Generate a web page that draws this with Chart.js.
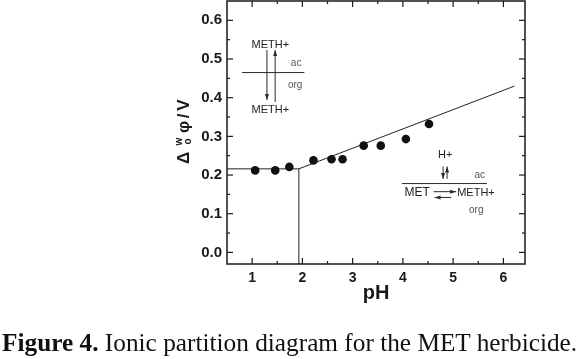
<!DOCTYPE html>
<html>
<head>
<meta charset="utf-8">
<script src="https://cdn.jsdelivr.net/npm/chart.js@4"></script>
<style>
  body { margin: 0; background: #fff; }
  #wrap { position: relative; width: 580px; height: 359px; }
  #caption {
    position: absolute; left: 2px; top: 328px;
    font-family: "Liberation Serif", serif; font-size: 25.3px;
    white-space: nowrap; color: #111;
  }
</style>
</head>
<body>
<div id="wrap">
  <canvas id="graph" width="580" height="359"></canvas>
  <div id="caption"><b>Figure 4.</b> Ionic partition diagram for the MET herbicide.</div>
</div>
<script>
// measured points
const phValues = [1.06, 1.46, 1.74, 2.22, 2.58, 2.80, 3.22, 3.56, 4.06, 4.52];
const potentials = [0.212, 0.212, 0.221, 0.238, 0.241, 0.241, 0.276, 0.276, 0.293, 0.332];

// fitted lines
const fitPh = [0.5, 1.93, 6.22];
const fitPotential = [0.216, 0.216, 0.430];
const pkaPh = [1.93, 1.93];
const pkaPotential = [-0.03, 0.216];

// ticks
const xTicks = [1, 2, 3, 4, 5, 6];
const yTicks = [0.0, 0.1, 0.2, 0.3, 0.4, 0.5, 0.6];

const FONT = '"Liberation Sans", Arial, sans-serif';
const INK = '#1a1a1a';

const toPoints = (xs, ys) => xs.map((x, i) => ({ x: x, y: ys[i] }));

function minors(major, min, max) {
    const out = [];
    const step = major[1] - major[0];
    const list = [major[0] - step].concat(major);
    list.forEach(v => {
        const m = v + step / 2;
        if (m > min && m < max) out.push(m);
    });
    return out;
}

function arrow(ctx, x1, y1, x2, y2) {
    ctx.beginPath();
    ctx.moveTo(x1, y1);
    ctx.lineTo(x2, y2);
    ctx.stroke();
    const a = Math.atan2(y2 - y1, x2 - x1);
    ctx.beginPath();
    ctx.moveTo(x2, y2);
    ctx.lineTo(x2 - 6 * Math.cos(a) + 2 * Math.sin(a), y2 - 6 * Math.sin(a) - 2 * Math.cos(a));
    ctx.lineTo(x2 - 6 * Math.cos(a) - 2 * Math.sin(a), y2 - 6 * Math.sin(a) + 2 * Math.cos(a));
    ctx.closePath();
    ctx.fill();
}

// frame, inward ticks, axis titles and the scheme annotations
const decorations = {
    id: 'decorations',
    afterDatasetsDraw(chart) {
        const ctx = chart.ctx;
        const area = chart.chartArea;
        const sx = chart.scales.x, sy = chart.scales.y;
        const px = v => sx.getPixelForValue(v);
        const py = v => sy.getPixelForValue(v);

        ctx.save();
        ctx.strokeStyle = INK;
        ctx.fillStyle = INK;

        // ticks on all four sides
        ctx.lineWidth = 1.2;
        const tick = (x1, y1, x2, y2) => { ctx.beginPath(); ctx.moveTo(x1, y1); ctx.lineTo(x2, y2); ctx.stroke(); };
        xTicks.forEach(v => { tick(px(v), area.bottom, px(v), area.bottom - 6); tick(px(v), area.top, px(v), area.top + 6); });
        minors(xTicks, sx.min, sx.max).forEach(v => { tick(px(v), area.bottom, px(v), area.bottom - 3); tick(px(v), area.top, px(v), area.top + 3); });
        yTicks.forEach(v => { tick(area.left, py(v), area.left + 6, py(v)); tick(area.right, py(v), area.right - 6, py(v)); });
        minors(yTicks, sy.min, sy.max).forEach(v => { tick(area.left, py(v), area.left + 3, py(v)); tick(area.right, py(v), area.right - 3, py(v)); });

        // frame
        ctx.lineWidth = 1.5;
        ctx.strokeRect(area.left, area.top, area.right - area.left, area.bottom - area.top);

        // x title
        ctx.font = 'bold 20px ' + FONT;
        ctx.textAlign = 'center';
        ctx.textBaseline = 'alphabetic';
        ctx.fillText('pH', (area.left + area.right) / 2, area.bottom + 35);

        // y title, drawn piece by piece for the stacked w / o
        ctx.save();
        ctx.translate(area.left - 38, (area.top + area.bottom) / 2 + 34);
        ctx.rotate(-Math.PI / 2);
        ctx.textAlign = 'center';
        ctx.font = 'bold 17px ' + FONT;
        ctx.fillText('\u0394', 8.5, 0);
        ctx.font = 'bold 10px ' + FONT;
        ctx.fillText('w', 25, -7);
        ctx.fillText('o', 25, 2);
        ctx.font = 'bold 17px ' + FONT;
        ctx.fillText('\u03c6', 39.5, 0);
        ctx.fillText('/', 50.5, 0);
        ctx.fillText('V', 61.5, 0);
        ctx.restore();

        // scheme annotations
        ctx.lineWidth = 1;
        ctx.strokeStyle = '#2a2a2a';
        ctx.textBaseline = 'middle';
        const text = (s, x, y, size, align, color) => {
            ctx.font = size + 'px ' + FONT;
            ctx.textAlign = align;
            ctx.fillStyle = color;
            ctx.fillText(s, px(x), py(y));
            ctx.fillStyle = '#2a2a2a';
        };

        // top-left: interface transfer
        text('METH+', 0.99, 0.536, 11, 'left', '#222');
        arrow(ctx, px(1.295), py(0.523), px(1.295), py(0.394));
        arrow(ctx, px(1.458), py(0.389), px(1.458), py(0.523));
        ctx.beginPath(); ctx.moveTo(px(0.80), py(0.465)); ctx.lineTo(px(2.04), py(0.465)); ctx.stroke();
        text('ac', 1.876, 0.489, 10, 'center', '#555');
        text('org', 1.857, 0.431, 10, 'center', '#555');
        text('METH+', 0.99, 0.369, 11, 'left', '#222');

        // bottom-right: protonation equilibrium
        text('H+', 4.70, 0.251, 11, 'left', '#222');
        arrow(ctx, px(4.80), py(0.222), px(4.80), py(0.190));
        arrow(ctx, px(4.88), py(0.190), px(4.88), py(0.222));
        text('ac', 5.53, 0.199, 10, 'center', '#555');
        ctx.beginPath(); ctx.moveTo(px(3.98), py(0.178)); ctx.lineTo(px(5.67), py(0.178)); ctx.stroke();
        text('MET', 4.03, 0.154, 12, 'left', '#222');
        arrow(ctx, px(4.61), py(0.157), px(5.06), py(0.157));
        arrow(ctx, px(4.96), py(0.142), px(4.63), py(0.142));
        text('METH+', 5.08, 0.154, 11, 'left', '#222');
        text('org', 5.46, 0.109, 10, 'center', '#555');

        ctx.restore();
    }
};

const ctx = document.getElementById('graph').getContext('2d');

const chart = new Chart(ctx, {
    type: 'scatter',
    data: {
        datasets: [
            {
                data: toPoints(phValues, potentials),
                pointRadius: 4.3,
                backgroundColor: '#111',
                borderColor: '#111',
                borderWidth: 0,
                showLine: false,
            },
            {
                data: toPoints(fitPh, fitPotential),
                showLine: true,
                pointRadius: 0,
                borderColor: '#222',
                borderWidth: 1,
            },
            {
                data: toPoints(pkaPh, pkaPotential),
                showLine: true,
                pointRadius: 0,
                borderColor: '#222',
                borderWidth: 1,
            },
        ],
    },
    options: {
        responsive: false,
        animation: false,
        layout: { autoPadding: false, padding: { top: 1, right: 55, left: 0, bottom: 0 } },
        plugins: {
            legend: { display: false },
            tooltip: { enabled: false },
        },
        scales: {
            x: {
                type: 'linear',
                min: 0.5,
                max: 6.43,
                afterBuildTicks: s => { s.ticks = xTicks.map(v => ({ value: v })); },
                afterFit: s => { s.height = 95; s.paddingLeft = 0; s.paddingRight = 0; },
                grid: { display: false, drawTicks: false },
                border: { display: false },
                ticks: {
                    font: { family: FONT, size: 14, weight: 'bold' },
                    color: INK,
                    padding: 6,
                    maxRotation: 0,
                    autoSkip: false,
                    callback: v => String(v),
                },
            },
            y: {
                type: 'linear',
                min: -0.03,
                max: 0.65,
                afterBuildTicks: s => { s.ticks = yTicks.map(v => ({ value: v })); },
                afterFit: s => { s.width = 227; s.paddingTop = 0; s.paddingBottom = 0; },
                grid: { display: false, drawTicks: false },
                border: { display: false },
                ticks: {
                    font: { family: FONT, size: 15, weight: 'bold' },
                    color: INK,
                    padding: 5,
                    autoSkip: false,
                    callback: v => v.toFixed(1),
                },
            },
        },
    },
    plugins: [decorations],
});
</script>
</body>
</html>
